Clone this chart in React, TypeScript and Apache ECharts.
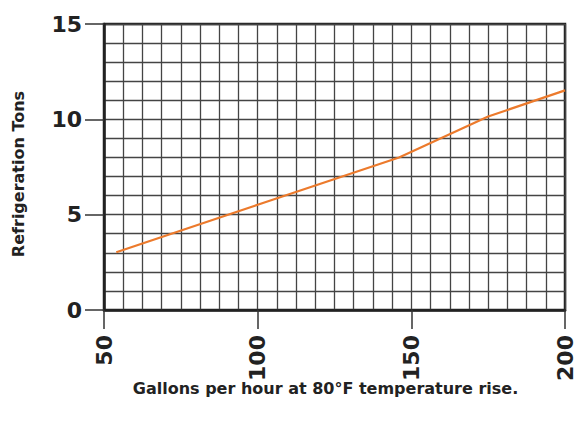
import React, { useEffect, useRef } from "react";
import * as echarts from "echarts";

const gallonsPerHour = [54, 100, 146, 175, 200];
const refrigerationTons = [3.03, 5.52, 8.0, 10.15, 11.52];
const xTickLabels = [50, 100, 150, 200];
const yTickLabels = [0, 5, 10, 15];

export default function App() {
  const ref = useRef<HTMLDivElement>(null);
  useEffect(() => {
    document.body.style.margin = "0";
    const chart = echarts.init(ref.current!, null, { renderer: "svg" });
    const font = "DejaVu Sans";
    const gridLine = { show: true, lineStyle: { color: "#444", width: 1.3 } };
    chart.setOption({
      animation: false,
      backgroundColor: "#ffffff",
      grid: {
        left: 104,
        right: 15,
        top: 24,
        bottom: 115,
        show: true,
        borderColor: "#222",
        borderWidth: 2.5,
        backgroundColor: "transparent",
      },
      xAxis: [
        {
          type: "value",
          min: 50,
          max: 200,
          interval: 6.25,
          name: "Gallons per hour at 80°F temperature rise.",
          nameLocation: "middle",
          nameGap: 70,
          nameMoveOverlap: false,
          nameTextStyle: {
            fontFamily: font,
            fontWeight: "bold",
            fontSize: 16,
            color: "#222",
            padding: [0, 18, 0, 0],
          },
          axisLine: { show: true, lineStyle: { color: "#222", width: 2.5 } },
          axisTick: {
            show: true,
            customValues: xTickLabels,
            length: 19,
            lineStyle: { color: "#333", width: 1.5 },
          },
          axisLabel: {
            customValues: xTickLabels,
            rotate: 90,
            margin: 25,
            fontFamily: font,
            fontWeight: "bold",
            fontSize: 22,
            color: "#222",
          },
          splitLine: { show: false },
          z: 3,
        },
        {
          type: "value",
          position: "bottom",
          min: 50,
          max: 200,
          interval: 6.25,
          axisLine: { show: false },
          axisTick: { show: false },
          axisLabel: { show: false },
          splitLine: gridLine,
        },
      ],
      yAxis: [
        {
          type: "value",
          min: 0,
          max: 15,
          interval: 1,
          name: "Refrigeration Tons",
          nameLocation: "middle",
          nameGap: 78,
          nameMoveOverlap: false,
          nameRotate: 90,
          nameTextStyle: {
            fontFamily: font,
            fontWeight: "bold",
            fontSize: 16,
            color: "#222",
            padding: [0, 14, 0, 0],
          },
          axisLine: { show: true, lineStyle: { color: "#222", width: 2.5 } },
          axisTick: {
            show: true,
            customValues: yTickLabels,
            length: 19,
            lineStyle: { color: "#333", width: 1.5 },
          },
          axisLabel: {
            customValues: yTickLabels,
            margin: 22,
            fontFamily: font,
            fontWeight: "bold",
            fontSize: 22,
            color: "#222",
          },
          splitLine: { show: false },
          z: 3,
        },
        {
          type: "value",
          position: "left",
          min: 0,
          max: 15,
          interval: 1,
          axisLine: { show: false },
          axisTick: { show: false },
          axisLabel: { show: false },
          splitLine: gridLine,
        },
      ],
      series: [
        {
          type: "line",
          xAxisIndex: 0,
          yAxisIndex: 0,
          data: gallonsPerHour.map((x, i) => [x, refrigerationTons[i]]),
          showSymbol: false,
          lineStyle: { color: "#ec7a2c", width: 2.2 },
          z: 5,
        },
      ],
    });
    return () => chart.dispose();
  }, []);
  return <div ref={ref} style={{ width: 580, height: 425 }} />;
}
